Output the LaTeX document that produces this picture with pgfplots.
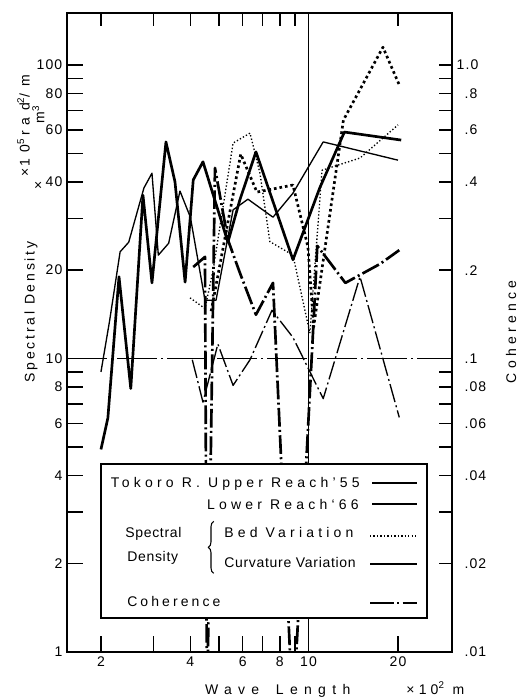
\documentclass[border=0pt]{standalone}
\usepackage{fontspec}
\setmainfont{Liberation Sans}
\newfontfamily\lsT[LetterSpace=8]{Liberation Sans}
\newfontfamily\lsL[LetterSpace=30]{Liberation Sans}
\newfontfamily\lsK[LetterSpace=22]{Liberation Sans}
\newfontfamily\lsM[LetterSpace=20]{Liberation Sans}
\newfontfamily\lsA[LetterSpace=45]{Liberation Sans}
\newfontfamily\lsS[LetterSpace=5]{Liberation Sans}
\usepackage{pgfplots}
\pgfplotsset{compat=1.18}
\usetikzlibrary{decorations.pathreplacing}
\newcommand\fs{\fontsize{10.5}{12}\selectfont}
\tikzset{
  thinl/.style={black, line width=1pt, line join=round},
  thickl/.style={black, line width=2pt, line join=round},
  thindot/.style={black, line width=1pt, line join=round, dash pattern=on 1pt off 1.6pt},
  thickdot/.style={black, line width=2pt, line join=round, dash pattern=on 2pt off 2.2pt},
  dashdot/.style={dash pattern=on 14pt off 2.5pt on 1.5pt off 2.5pt},
}
\begin{document}
\begin{tikzpicture}
\path[use as bounding box] (-50.25pt,-34.5pt) rectangle (339pt,489pt);
\begin{axis}[
  at={(0pt,0pt)}, anchor=south west,
  scale only axis, width=288.75pt, height=479.25pt,
  xmode=log, ymode=log, xmin=1.537, xmax=30.4, ymin=1, ymax=150.4,
  xminorticks=false, yminorticks=false,
  tick align=inside,
  axis line style={line width=0.9pt},
  tick style={black, line width=1.1pt},
  tick label style={font=\fs\lsT},
  /pgf/number format/assume math mode=true,
  major tick length=12pt,
  xtick pos=bottom, ytick pos=left,
  xtick={2,3,4,5,6,7,8,9,10,20},
  xticklabels={2,,4,,6,,8,,10,20},
  ytick={1,2,3,4,5,6,7,8,9,10,20,30,40,50,60,70,80,90,100},
  yticklabels={1,2,,4,,6,,8,,10,20,,40,,60,,80,,100},
]
\addplot[black, line width=0.9pt, dash pattern=on 30pt off 3pt on 1.5pt off 3pt] coordinates {(1.537,10) (30.4,10)};
\addplot[black, line width=0.8pt] coordinates {(10,1) (10,150.4)};
% Upper Reach '55, curvature variation (thin solid)
\addplot[thinl] coordinates {(2.0,9.0) (2.14,13.5) (2.32,23.1) (2.48,24.9) (2.79,38.1) (2.97,42.8) (3.12,22.5) (3.38,24.7) (3.69,37.2) (4.0,30.3) (4.48,15.8) (4.88,15.8) (5.57,32.1) (6.25,34.9) (7.59,30.3) (8.86,36.6) (11.2,54.7) (20.0,47.4)};
% Lower Reach '66, curvature variation (thick solid)
\addplot[thickl] coordinates {(2.0,4.9) (2.11,6.27) (2.30,19.0) (2.52,7.9) (2.77,36.0) (2.97,18.1) (3.31,54.7) (3.55,40.0) (3.84,18.2) (4.09,40.6) (4.41,46.8) (5.35,24.9) (5.87,34.7) (6.65,50.6) (8.86,21.7) (10.9,38.1) (13.2,59.1) (20.5,55.5)};
% Upper Reach '55, bed variation (thin dotted)
\addplot[thindot] coordinates {(3.99,16.1) (4.48,14.8) (4.77,20.0) (5.57,54.2) (6.35,58.6) (6.86,42.8) (7.41,25.0) (8.86,22.5) (10.1,12.2) (11.1,43.8) (14.9,48.2) (20.0,62.5)};
% Lower Reach '66, bed variation (thick dotted)
\addplot[thickdot] coordinates {(4.7,14.5) (5.91,49.7) (6.7,36.9) (8.86,39.0) (9.95,24.0) (10.4,12.8) (13.1,64.9) (17.8,115) (20.2,85.5)};
\end{axis}
\begin{axis}[
  at={(0pt,0pt)}, anchor=south west,
  scale only axis, width=288.75pt, height=479.25pt,
  xmode=log, ymode=log, xmin=1.537, xmax=30.4, ymin=0.01, ymax=1.504,
  xminorticks=false, yminorticks=false,
  tick align=inside,
  axis line style={line width=0.9pt},
  tick style={black, line width=1.1pt},
  tick label style={font=\fs\lsT},
  /pgf/number format/assume math mode=true,
  major tick length=10pt,
  xtick pos=top, ytick pos=right, yticklabel pos=right,
  xtick={2,3,4,5,6,7,8,9,10,20}, xticklabels={},
  ytick={0.01,0.02,0.03,0.04,0.05,0.06,0.07,0.08,0.09,0.1,0.2,0.3,0.4,0.5,0.6,0.7,0.8,0.9,1.0},
  yticklabels={\phantom{1}.01,\phantom{1}.02,,\phantom{1}.04,,\phantom{1}.06,,\phantom{1}.08,,\phantom{1}.1,\phantom{1}.2,,\phantom{1}.4,,\phantom{1}.6,,\phantom{1}.8,,1.0},
  yticklabel style={anchor=west},
]
% Upper Reach '55, coherence (thin dash-dot)
\addplot[thinl, dashdot] coordinates {(4.06,0.099) (4.41,0.071) (4.95,0.112) (5.57,0.081) (6.35,0.099) (7.53,0.146) (8.86,0.118) (9.95,0.093) (11.2,0.073) (14.9,0.19) (20.2,0.063)};
% Lower Reach '66, coherence (thick dash-dot)
\addplot[thickl, dashdot] coordinates {(4.09,0.205) (4.48,0.222) (4.55,0.006) (4.84,0.446) (5.35,0.254) (5.87,0.196) (6.65,0.141) (7.59,0.181) (8.86,0.006) (10.4,0.135) (10.7,0.242) (13.3,0.181) (17.4,0.21) (20.2,0.234)};
\end{axis}
% legend
\draw[line width=0.9pt, fill=white] (25.5pt,25.5pt) rectangle (270pt,141pt);
\node[font=\fs\lsL, anchor=base east, inner sep=0pt] at (219.75pt,123pt) {Tokoro R. Upper Reach’55};
\draw[black, line width=1pt] (228.75pt,126.75pt) -- (262.5pt,126.75pt);
\node[font=\fs\lsL, anchor=base east, inner sep=0pt] at (219pt,106.5pt) {Lower Reach‘66};
\draw[black, line width=2pt] (228.75pt,111pt) -- (262.5pt,111pt);
\node[font=\fs\lsS, anchor=base west, inner sep=0pt] at (43.5pt,85.5pt) {Spectral};
\node[font=\fs\lsS, anchor=base west, inner sep=0pt] at (45pt,67.5pt) {Density};
\draw[line width=0.8pt, decorate, decoration={brace, amplitude=4pt}] (110pt,59pt) -- (110pt,98pt);
\node[font=\fs\lsL, anchor=base west, inner sep=0pt] at (117.75pt,85.5pt) {Bed Variation};
\draw[black, line width=1pt, dash pattern=on 1pt off 1.6pt] (227.25pt,87pt) -- (262.5pt,87pt);
\node[font=\fs\lsS, anchor=base west, inner sep=0pt] at (117.75pt,63pt) {Curvature Variation};
\draw[black, line width=1pt] (227.25pt,66pt) -- (262.5pt,66pt);
\node[font=\fs\lsK, anchor=base west, inner sep=0pt] at (45pt,33.75pt) {Coherence};
\draw[black, line width=1pt, dash pattern=on 18pt off 2.5pt on 1.5pt off 2.5pt] (227.25pt,36.75pt) -- (262.5pt,36.75pt);
% axis labels
\node[rotate=90, font=\fs\lsM] at (-27pt,255pt) {Spectral Density};
\node[rotate=90, font=\fs\lsA] at (-32.6pt,394.5pt) {×\,10\textsuperscript{5}\,rad\textsuperscript{2}/m};
\node[rotate=90, font=\fs] at (-21.5pt,403pt) {m\textsuperscript{3}};
\node[rotate=90, font=\fs] at (-21pt,350pt) {×};
\node[font=\fs\lsA, anchor=base] at (158pt,-31.5pt) {Wave\hspace{1.2em}Length};
\node[font=\fs\lsL, anchor=base west] at (251pt,-31.5pt) {×10\textsuperscript{2} m};
\node[rotate=90, font=\fs\lsL] at (333pt,240pt) {Coherence};
\end{tikzpicture}
\end{document}
